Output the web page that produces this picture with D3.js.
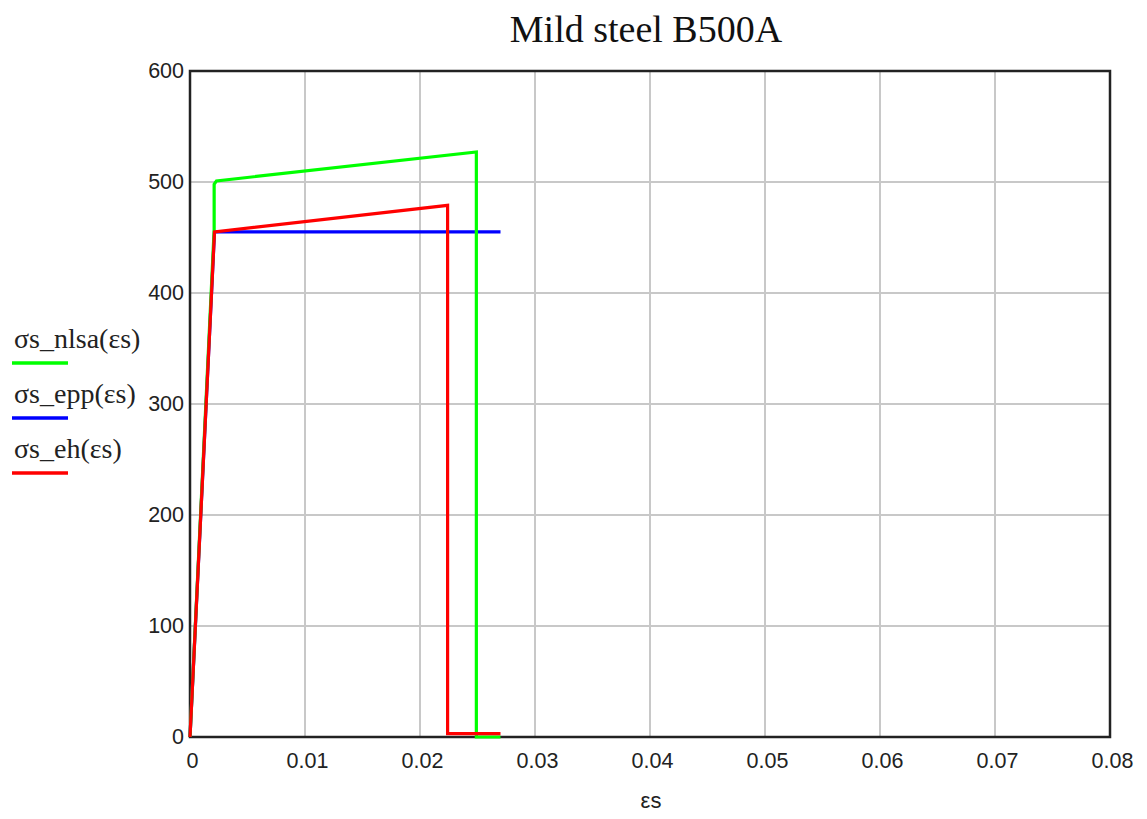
<!DOCTYPE html>
<html>
<head>
<meta charset="utf-8">
<script src="https://cdn.jsdelivr.net/npm/d3@7"></script>
<style>
  html, body { margin: 0; padding: 0; background: #fff; }
  svg { display: block; }
</style>
</head>
<body>
<svg id="chart" width="1147" height="819"></svg>
<script>
// Stress-strain curves for B500A reinforcing steel (strain, stress in MPa)
const nlsaStrain = [0, 0.00210, 0.00210, 0.00230, 0.0249, 0.0249, 0.0270];
const nlsaStress = [0, 457, 498, 501, 527, 0, 0];

const eppStrain = [0, 0.00213, 0.0270];
const eppStress = [0, 455, 455];

const ehStrain = [0, 0.00213, 0.0224, 0.0224, 0.0270];
const ehStress = [0, 455, 479, 3, 3];

const xTicks = [0, 0.01, 0.02, 0.03, 0.04, 0.05, 0.06, 0.07, 0.08];
const yTicks = [0, 100, 200, 300, 400, 500, 600];

const seriesNames = ["\u03c3s_nlsa(\u03b5s)", "\u03c3s_epp(\u03b5s)", "\u03c3s_eh(\u03b5s)"];
const seriesColors = ["#00ff00", "#0000ff", "#ff0000"];

const svg = d3.select("#chart");
const plotLeft = 190, plotRight = 1110, plotTop = 71, plotBottom = 737;

const x = d3.scaleLinear().domain([0, 0.08]).range([plotLeft, plotRight]);
const y = d3.scaleLinear().domain([0, 600]).range([plotBottom, plotTop]);

const serif = "'Liberation Serif', 'Times New Roman', serif";
const sans = "'Liberation Sans', Arial, sans-serif";

// Title
svg.append("text")
  .attr("x", 646).attr("y", 42)
  .attr("text-anchor", "middle")
  .style("font-family", serif).style("font-size", "38px").attr("fill", "#111")
  .text("Mild steel B500A");

// Grid lines
const grid = svg.append("g").attr("stroke", "#c8c8c8").attr("stroke-width", 2);
grid.selectAll(".gx").data(xTicks.slice(1, -1)).join("line")
  .attr("x1", d => x(d)).attr("x2", d => x(d))
  .attr("y1", plotTop).attr("y2", plotBottom);
grid.selectAll(".gy").data(yTicks.slice(1, -1)).join("line")
  .attr("x1", plotLeft).attr("x2", plotRight)
  .attr("y1", d => y(d)).attr("y2", d => y(d));

// Axes (labels only; frame drawn separately)
const xAxis = svg.append("g").attr("transform", `translate(0,${plotBottom})`)
  .call(d3.axisBottom(x).tickValues(xTicks).tickFormat(d => d === 0 ? "0" : d3.format(".2f")(d)).tickSize(0).tickPadding(14));
xAxis.select(".domain").remove();
xAxis.selectAll("text").style("font-family", sans).style("font-size", "21.5px").attr("fill", "#222")
  .attr("dy", null).attr("y", 31).attr("dx", 2);

const yAxis = svg.append("g").attr("transform", `translate(${plotLeft},0)`)
  .call(d3.axisLeft(y).tickValues(yTicks).tickFormat(d3.format("d")).tickSize(0).tickPadding(6));
yAxis.select(".domain").remove();
yAxis.selectAll("text").style("font-family", sans).style("font-size", "21.5px").attr("fill", "#222")
  .attr("dy", "0.28em");

// Frame
svg.append("rect")
  .attr("x", plotLeft).attr("y", plotTop)
  .attr("width", plotRight - plotLeft).attr("height", plotBottom - plotTop)
  .attr("fill", "none").attr("stroke", "#222").attr("stroke-width", 2.5);

// Curves
const line = d3.line().x(d => x(d[0])).y(d => y(d[1]));
const zip = (a, b) => a.map((v, i) => [v, b[i]]);
const curves = [
  { pts: zip(eppStrain, eppStress), color: seriesColors[1] },
  { pts: zip(nlsaStrain, nlsaStress), color: seriesColors[0] },
  { pts: zip(ehStrain, ehStress), color: seriesColors[2] }
];
svg.append("g").selectAll("path").data(curves).join("path")
  .attr("d", d => line(d.pts))
  .attr("fill", "none")
  .attr("stroke", d => d.color)
  .attr("stroke-width", 3.2)
  .attr("stroke-linejoin", "miter");

// Axis title
svg.append("text")
  .attr("x", 651).attr("y", 808)
  .attr("text-anchor", "middle")
  .style("font-family", sans).style("font-size", "22px").attr("fill", "#222")
  .text("\u03b5s");

// Legend
const legend = svg.append("g").selectAll("g").data(seriesNames).join("g")
  .attr("transform", (d, i) => `translate(14,${348 + i * 55})`);
legend.append("text")
  .attr("x", 0).attr("y", 0)
  .style("font-family", serif).style("font-size", "28px").attr("fill", "#222")
  .text(d => d);
legend.append("line")
  .attr("x1", -2).attr("x2", 54)
  .attr("y1", 15).attr("y2", 15)
  .attr("stroke", (d, i) => seriesColors[i])
  .attr("stroke-width", 3.5);
</script>
</body>
</html>
